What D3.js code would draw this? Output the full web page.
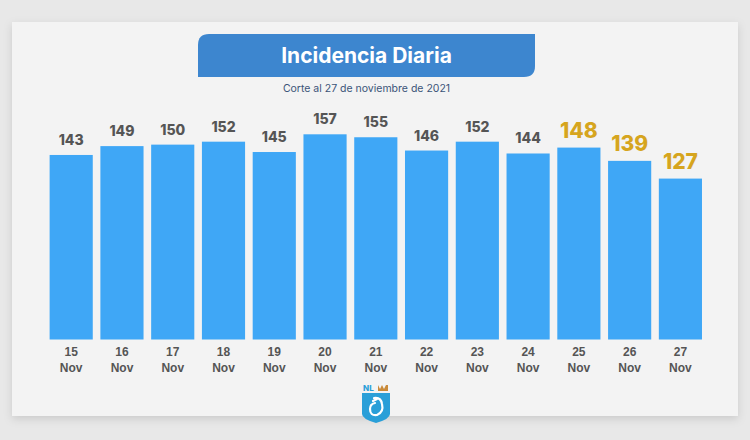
<!DOCTYPE html>
<html>
<head>
<meta charset="utf-8">
<script src="https://d3js.org/d3.v7.min.js"></script>
<style>
  body { margin: 0; background: #e8e8e8; }
  svg { display: block; font-family: Inter, "Noto Sans", sans-serif; }
</style>
</head>
<body>
<svg id="vis"></svg>
<script>
  world_width = 750
  world_height = 440

  // data
  var days = ['15', '16', '17', '18', '19', '20', '21', '22', '23', '24', '25', '26', '27']
  var month = 'Nov'
  var cases = [143, 149, 150, 152, 145, 157, 155, 146, 152, 144, 148, 139, 127]
  var highlighted = ['25', '26', '27']

  var svg = d3.select('#vis')
      .attr('width', world_width)
      .attr('height', world_height)

  var defs = svg.append('defs')
  var shadow = defs.append('filter').attr('id', 'shadow')
    .attr('x', '-5%').attr('y', '-5%').attr('width', '110%').attr('height', '115%')
  shadow.append('feDropShadow')
    .attr('dx', 0).attr('dy', 3).attr('stdDeviation', 4)
    .attr('flood-color', '#000').attr('flood-opacity', 0.13)

  // background + card
  svg.append('rect')
    .attr('width', world_width).attr('height', world_height)
    .attr('fill', '#e8e8e8')
  svg.append('rect')
    .attr('x', 12).attr('y', 22)
    .attr('width', 726).attr('height', 394)
    .attr('fill', '#f3f3f3')
    .attr('filter', 'url(#shadow)')

  // title banner: rounded top-left and bottom-right
  var bx = 198, by = 34, bw = 337, bh = 43, r = 11
  svg.append('path')
    .attr('d', 'M' + bx + ',' + (by + r) +
      ' Q' + bx + ',' + by + ' ' + (bx + r) + ',' + by +
      ' L' + (bx + bw) + ',' + by +
      ' L' + (bx + bw) + ',' + (by + bh - r) +
      ' Q' + (bx + bw) + ',' + (by + bh) + ' ' + (bx + bw - r) + ',' + (by + bh) +
      ' L' + bx + ',' + (by + bh) + ' Z')
    .attr('fill', '#3d86cf')
  svg.append('text')
    .attr('x', bx + bw / 2).attr('y', by + bh / 2 + 7.5)
    .attr('text-anchor', 'middle')
    .attr('fill', '#fff')
    .attr('font-size', 21)
    .attr('font-weight', 700)
    .text('Incidencia Diaria')
  svg.append('text')
    .attr('x', bx + bw / 2).attr('y', 92)
    .attr('text-anchor', 'middle')
    .attr('fill', '#3b5478')
    .attr('font-size', 10.5)
    .text('Corte al 27 de noviembre de 2021')

  // scales
  var x = d3.scaleBand()
    .domain(days)
    .range([42, 709.6])
    .paddingInner(0.15)
    .paddingOuter(0.15)
  var y = d3.scaleLinear()
    .domain([18, 157])
    .range([339.5, 134.3])

  var data = days.map(function (d, i) { return {day: d, value: cases[i]} })
  var isHi = function (d) { return highlighted.indexOf(d.day) >= 0 }

  svg.selectAll('rect.bar')
    .data(data)
    .enter().append('rect')
    .attr('class', 'bar')
    .attr('x', function (d) { return x(d.day) })
    .attr('y', function (d) { return y(d.value) })
    .attr('width', x.bandwidth())
    .attr('height', function (d) { return y(18) - y(d.value) })
    .attr('fill', '#3fa7f6')

  // value labels
  svg.selectAll('text.val')
    .data(data)
    .enter().append('text')
    .attr('class', 'val')
    .attr('x', function (d) { return x(d.day) + x.bandwidth() / 2 })
    .attr('y', function (d) { return y(d.value) - 10 })
    .attr('text-anchor', 'middle')
    .attr('fill', function (d) { return isHi(d) ? '#d6a51e' : '#555' })
    .attr('font-size', function (d) { return isHi(d) ? 21 : 14 })
    .attr('font-weight', 800)
    .text(function (d) { return d.value })

  // x axis labels (two lines)
  var xAxis = svg.append('g')
    .attr('transform', 'translate(0,' + y(18) + ')')
    .call(d3.axisBottom(x).tickSize(0).tickPadding(0).tickFormat(''))
  xAxis.select('.domain').remove()
  xAxis.selectAll('.tick text').remove()
  xAxis.selectAll('.tick').each(function (d) {
    var t = d3.select(this).append('text')
      .attr('text-anchor', 'middle')
      .attr('fill', '#555')
      .attr('font-size', 12)
      .attr('font-weight', 800)
    t.append('tspan').attr('x', 0).attr('y', 16).text(d)
    t.append('tspan').attr('x', 0).attr('y', 32).text(month)
  })

  // logo
  var logo = svg.append('g').attr('transform', 'translate(376,392)')
  logo.append('text')
    .attr('x', -13).attr('y', -1)
    .attr('fill', '#2a9fd8')
    .attr('font-size', 8)
    .attr('font-weight', 800)
    .text('NL')
  logo.append('path')
    .attr('d', 'M2,-7 L4,-3 L6,-7 L8,-3 L10,-7 L12,-7 L12,-1 L2,-1 Z')
    .attr('fill', '#c98a3a')
  logo.append('path')
    .attr('d', 'M-14,1 L14,1 L14,22 Q14,27 0,31 Q-14,27 -14,22 Z')
    .attr('fill', '#2a9fd8')
  logo.append('path')
    .attr('d', 'M-2,6 Q5,5 6,12 Q8,20 1,23 Q-6,24 -6,17 Q-6,12 -1,11 M-3,9 L1,7')
    .attr('fill', 'none')
    .attr('stroke', '#fff')
    .attr('stroke-width', 2.2)
    .attr('stroke-linecap', 'round')
</script>
</body>
</html>
